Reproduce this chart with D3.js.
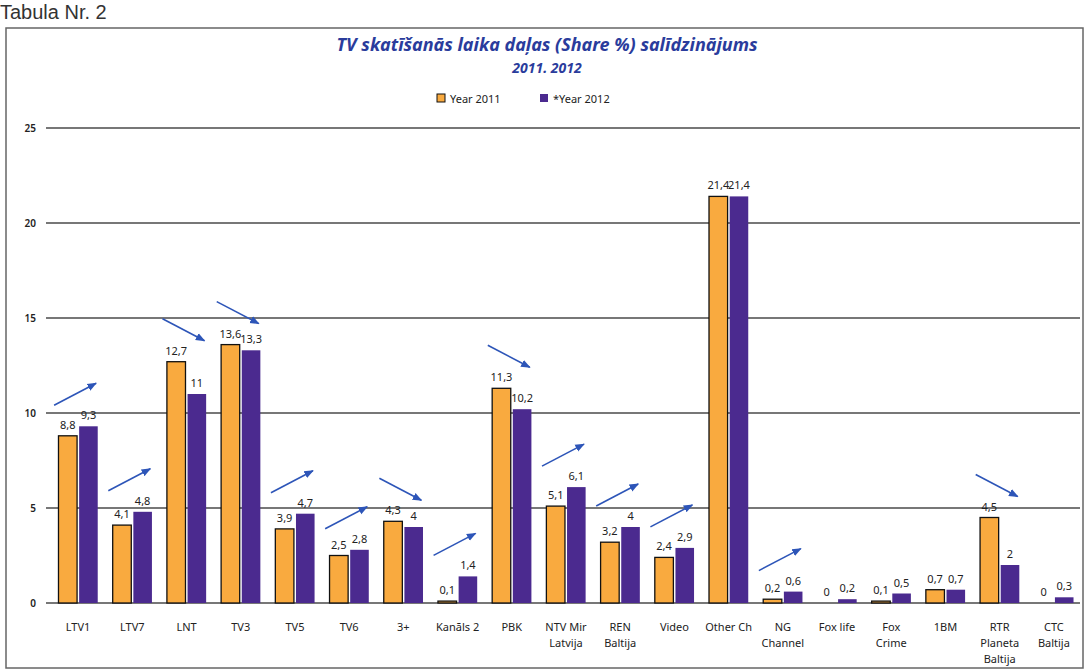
<!DOCTYPE html>
<html>
<head>
    <meta charset="utf-8">
    <title>TV share</title>
    <script src="https://d3js.org/d3.v7.min.js"></script>
    <style>
        body { margin: 0; background: #fff; }
        text { font-family: "Noto Sans", "Open Sans", sans-serif; }
    </style>
</head>
<body>
    <div id="chart"></div>
    <script>
        // channels, one entry per group
        const categories = ["LTV1", "LTV7", "LNT", "TV3", "TV5", "TV6", "3+", "Kanāls 2", "PBK",
            "NTV Mir Latvija", "REN Baltija", "Video", "Other Ch", "NG Channel", "Fox life",
            "Fox Crime", "1BM", "RTR Planeta Baltija", "CTC Baltija"]
        // how the axis labels wrap
        const categoryLines = [["LTV1"], ["LTV7"], ["LNT"], ["TV3"], ["TV5"], ["TV6"], ["3+"], ["Kanāls 2"], ["PBK"],
            ["NTV Mir", "Latvija"], ["REN", "Baltija"], ["Video"], ["Other Ch"], ["NG", "Channel"], ["Fox life"],
            ["Fox", "Crime"], ["1BM"], ["RTR", "Planeta", "Baltija"], ["CTC", "Baltija"]]
        const series = ["Year 2011", "*Year 2012"]
        const share2011 = [8.8, 4.1, 12.7, 13.6, 3.9, 2.5, 4.3, 0.1, 11.3, 5.1, 3.2, 2.4, 21.4, 0.2, 0, 0.1, 0.7, 4.5, 0]
        const share2012 = [9.3, 4.8, 11, 13.3, 4.7, 2.8, 4, 1.4, 10.2, 6.1, 4, 2.9, 21.4, 0.6, 0.2, 0.5, 0.7, 2, 0.3]
        const yTicks = [0, 5, 10, 15, 20, 25]
        // channels that got a hand-drawn trend arrow
        const arrowCats = ["LTV1", "LTV7", "LNT", "TV3", "TV5", "TV6", "3+", "Kanāls 2", "PBK",
            "NTV Mir Latvija", "REN Baltija", "Video", "NG Channel", "RTR Planeta Baltija"]

        const colors = ["#f9aa3f", "#4b2a8f"]
        const W = 1086, H = 672
        const svg = d3.select("#chart").append("svg").attr("width", W).attr("height", H)

        // scanned page bits
        svg.append("text").attr("x", 0).attr("y", 19)
            .style("font-family", "'Liberation Sans', sans-serif")
            .style("font-size", "20px").attr("fill", "#333")
            .text("Tabula Nr. 2")
        svg.append("rect").attr("x", 6).attr("y", 28).attr("width", 1077).attr("height", 640)
            .attr("fill", "none").attr("stroke", "#666").attr("stroke-width", 1.5)

        const x0 = d3.scaleBand().domain(categories).range([51, 1081]).paddingInner(0.2).paddingOuter(0.1)
        const x1 = d3.scaleBand().domain(series).range([0, x0.bandwidth()]).padding(0.1)
        const y = d3.scaleLinear().domain([0, 25]).range([603, 128])

        // grid lines
        svg.append("g").selectAll("line").data(yTicks).join("line")
            .attr("x1", 46).attr("x2", 1080)
            .attr("y1", d => y(d)).attr("y2", d => y(d))
            .attr("stroke", "#4a4a4a").attr("stroke-width", 1.5)
        svg.append("g").selectAll("text").data(yTicks).join("text")
            .attr("x", 36).attr("y", d => y(d) + 4)
            .attr("text-anchor", "end").attr("font-size", 10).attr("font-weight", 600).attr("fill", "#222")
            .text(d => d)

        // bars
        const rows = categories.map((c, i) => ({ cat: c, vals: [share2011[i], share2012[i]] }))
        const groups = svg.append("g").selectAll("g").data(rows).join("g")
            .attr("transform", d => `translate(${x0(d.cat)},0)`)
        groups.selectAll("rect").data(d => d.vals.map((v, k) => ({ v, k }))).join("rect")
            .attr("x", d => x1(series[d.k]))
            .attr("width", x1.bandwidth())
            .attr("y", d => y(d.v))
            .attr("height", d => y(0) - y(d.v))
            .attr("fill", d => colors[d.k])
            .attr("stroke", d => d.k === 0 ? "#111" : "none")
            .attr("stroke-width", 1.3)
            .style("display", d => d.v === 0 ? "none" : null)
        groups.selectAll("text").data(d => d.vals.map((v, k) => ({ v, k }))).join("text")
            .attr("x", d => x1(series[d.k]) + x1.bandwidth() / 2)
            .attr("y", d => y(d.v) - 7)
            .attr("text-anchor", "middle").attr("font-size", 11).attr("fill", "#222")
            .text(d => String(d.v).replace(".", ","))

        // category labels
        const lab = svg.append("g").selectAll("text").data(categories).join("text")
            .attr("x", d => x0(d) + x0.bandwidth() / 2)
            .attr("y", 631)
            .attr("text-anchor", "middle").attr("font-size", 11).attr("fill", "#222")
        lab.selectAll("tspan").data((d, i) => categoryLines[i]).join("tspan")
            .attr("x", function () { return d3.select(this.parentNode).attr("x") })
            .attr("dy", (d, i) => i === 0 ? 0 : 16)
            .text(d => d)

        // trend arrows
        svg.append("defs").append("marker").attr("id", "ah")
            .attr("viewBox", "0 0 10 10").attr("refX", 9).attr("refY", 5)
            .attr("markerWidth", 6).attr("markerHeight", 6).attr("orient", "auto")
            .append("path").attr("d", "M0,1L10,5L0,9z").attr("fill", "#2d55b8")
        svg.append("g").selectAll("line").data(arrowCats).join("line")
            .each(function (c) {
                const i = categories.indexOf(c)
                const cx = x0(c) + x0.bandwidth() / 2 - 3
                const cy = y(Math.max(share2011[i], share2012[i])) - 32
                const s = share2012[i] > share2011[i] ? 1 : -1
                d3.select(this)
                    .attr("x1", cx - 21).attr("y1", cy + 11 * s)
                    .attr("x2", cx + 21).attr("y2", cy - 11 * s)
            })
            .attr("stroke", "#2d55b8").attr("stroke-width", 1.6)
            .attr("marker-end", "url(#ah)")

        // title and legend
        svg.append("text").attr("x", 547).attr("y", 51).attr("text-anchor", "middle")
            .attr("font-size", 18).attr("font-style", "italic").attr("font-weight", "bold").attr("fill", "#2a3c9c")
            .text("TV skatīšanās laika daļas (Share %) salīdzinājums")
        svg.append("text").attr("x", 547).attr("y", 73).attr("text-anchor", "middle")
            .attr("font-size", 14).attr("font-style", "italic").attr("font-weight", "bold").attr("fill", "#2a3c9c")
            .text("2011. 2012")
        const leg = svg.append("g").selectAll("g").data(series).join("g")
            .attr("transform", (d, i) => `translate(${[437, 540][i]},94)`)
        leg.append("rect").attr("width", 8).attr("height", 8)
            .attr("fill", (d, i) => colors[i]).attr("stroke", (d, i) => i === 0 ? "#111" : "none")
        leg.append("text").attr("x", 13).attr("y", 8.5).attr("font-size", 11).attr("fill", "#222").text(d => d)
    </script>
</body>
</html>
